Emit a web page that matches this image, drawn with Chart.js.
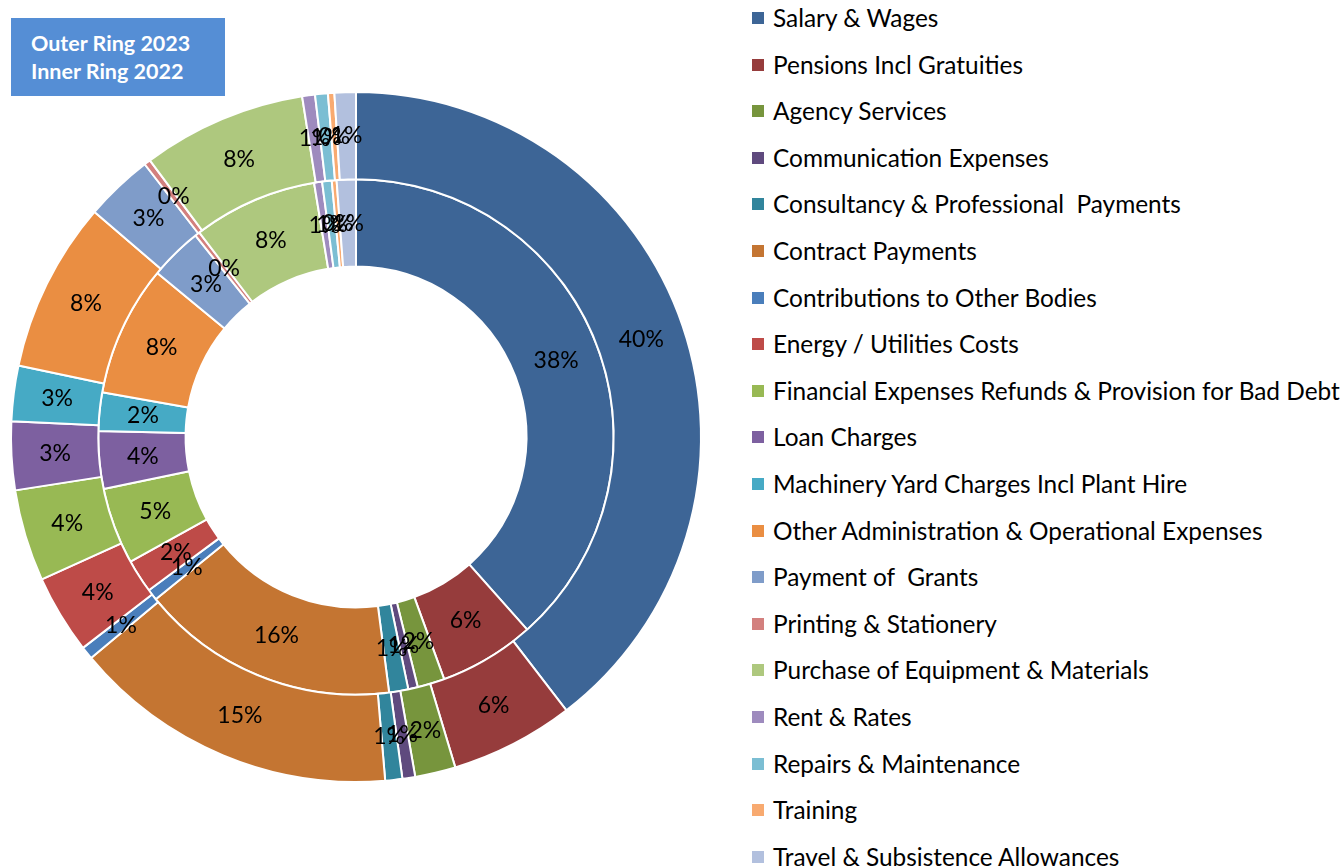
<!DOCTYPE html>
<html>
<head>
<meta charset="utf-8">
<script src="https://cdn.jsdelivr.net/npm/chart.js@4.4.0/dist/chart.umd.min.js"></script>
<style>
  body { margin: 0; background: #fff; width: 1344px; height: 868px; overflow: hidden; position: relative; font-family: Lato, "Open Sans", sans-serif; }
  #wrap { position: absolute; left: 0; top: 0; width: 712px; height: 868px; }
  #ringNote { position: absolute; left: 11px; top: 18px; width: 214px; height: 78px; background: #558ED5; color: #fff; font-weight: bold; font-size: 21.5px; line-height: 28px; box-sizing: border-box; padding: 11px 0 0 20px; }
  #legend { position: absolute; left: 752px; top: 0; }
  .item { position: absolute; left: 0; white-space: pre; font-size: 24.4px; color: #000; }
  .item .box { position: absolute; left: 0; top: -6px; width: 12px; height: 12px; }
  .item .txt { position: absolute; left: 21px; top: -15px; line-height: 30px; }
</style>
</head>
<body>
<div id="wrap"><canvas id="myChart" width="712" height="868"></canvas></div>
<div id="ringNote">Outer Ring 2023<br>Inner Ring 2022</div>
<div id="legend"></div>
<script>
const categories = [
  'Salary & Wages',
  'Pensions Incl Gratuities',
  'Agency Services',
  'Communication Expenses',
  'Consultancy & Professional  Payments',
  'Contract Payments',
  'Contributions to Other Bodies',
  'Energy / Utilities Costs',
  'Financial Expenses Refunds & Provision for Bad Debt',
  'Loan Charges',
  'Machinery Yard Charges Incl Plant Hire',
  'Other Administration & Operational Expenses',
  'Payment of  Grants',
  'Printing & Stationery',
  'Purchase of Equipment & Materials',
  'Rent & Rates',
  'Repairs & Maintenance',
  'Training',
  'Travel & Subsistence Allowances'
];

// share of total spend, %
const values2023 = [39.6, 5.8, 1.9, 0.6, 0.8, 15.3, 0.6, 3.7, 4.3, 3.2, 2.6, 8.0, 3.2, 0.3, 7.7, 0.6, 0.6, 0.3, 1.0];
const values2022 = [38.4, 6.0, 1.7, 0.6, 1.2, 16.2, 0.7, 2.1, 4.8, 3.6, 2.4, 8.2, 3.3, 0.3, 7.8, 0.5, 0.6, 0.3, 1.2];

const colors = [
  '#3D6596', '#963C3C', '#77953D', '#5F4A7E', '#31859C', '#C47532', '#4A7EBB',
  '#BE4B48', '#98B954', '#7D60A0', '#46AAC5', '#EA8E42', '#7F9CC9', '#D3807E',
  '#AEC87E', '#9E8BBE', '#7BBED3', '#F8AA70', '#B2C0DE'
];

// percentage labels in the middle of each slice
const pctLabels = {
  id: 'pctLabels',
  afterDatasetsDraw(chart) {
    const ctx = chart.ctx;
    ctx.save();
    ctx.font = '23px Lato, "Open Sans", sans-serif';
    ctx.fillStyle = '#000';
    ctx.textAlign = 'center';
    ctx.textBaseline = 'middle';
    chart.data.datasets.forEach((ds, di) => {
      const total = ds.data.reduce((a, b) => a + b, 0);
      chart.getDatasetMeta(di).data.forEach((arc, i) => {
        const pos = arc.tooltipPosition();
        const pct = Math.round(ds.data[i] / total * 100);
        ctx.fillText(pct + '%', pos.x, pos.y);
      });
    });
    ctx.restore();
  }
};

const ctx = document.getElementById('myChart').getContext('2d');

const ringChart = new Chart(ctx, {
  type: 'doughnut',
  data: {
    labels: categories,
    datasets: [{
      label: '2023',
      data: values2023,
      backgroundColor: colors,
      borderColor: '#fff',
      borderWidth: 2
    }, {
      label: '2022',
      data: values2022,
      backgroundColor: colors,
      borderColor: '#fff',
      borderWidth: 2
    }]
  },
  options: {
    responsive: false,
    devicePixelRatio: 1,
    animation: false,
    cutout: '49.4%',
    hoverOffset: 0,
    layout: { padding: { left: 10, right: 10, top: 91, bottom: 85 } },
    plugins: {
      legend: { display: false },
      tooltip: { enabled: false }
    }
  },
  plugins: [pctLabels]
});

// legend built from the same arrays
const legend = document.getElementById('legend');
categories.forEach((name, i) => {
  const item = document.createElement('div');
  item.className = 'item';
  item.style.top = (18 + i * 46.6) + 'px';
  item.innerHTML = '<span class="box" style="background:' + colors[i] + '"></span><span class="txt"></span>';
  item.querySelector('.txt').textContent = name;
  legend.appendChild(item);
});
</script>
</body>
</html>
